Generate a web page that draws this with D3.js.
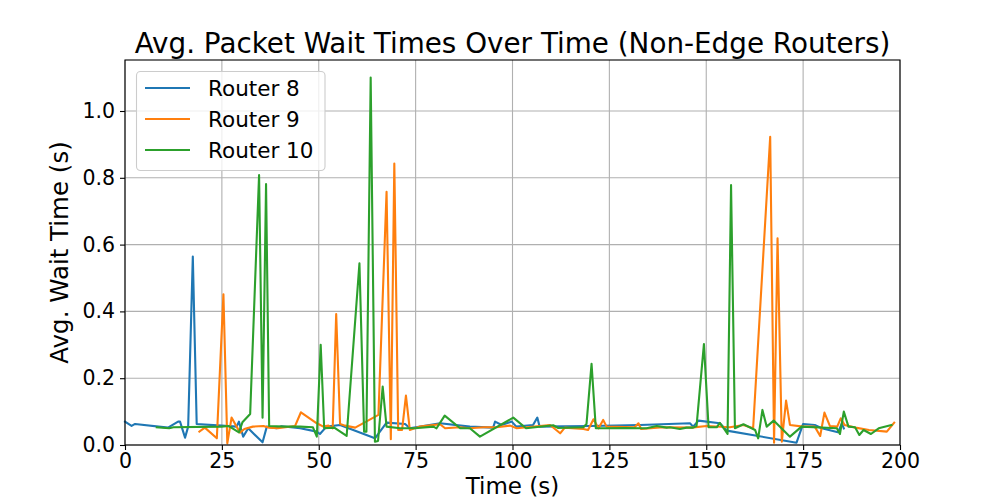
<!DOCTYPE html>
<html>
<head>
<meta charset="utf-8">
<script src="https://cdn.jsdelivr.net/npm/d3@7"></script>
<style>
  html, body { margin: 0; padding: 0; background: #fff; }
  svg { display: block; }
  text { font-family: "DejaVu Sans", sans-serif; fill: #000; }
</style>
</head>
<body>
<svg id="chart" width="1000" height="500"></svg>
<script>
const titleText = "Avg. Packet Wait Times Over Time (Non-Edge Routers)";
const xLabel = "Time (s)";
const yLabel = "Avg. Wait Time (s)";
const seriesNames = ["Router 8", "Router 9", "Router 10"];
const seriesColors = ["#1f77b4", "#ff7f0e", "#2ca02c"];
const xTicks = [0, 25, 50, 75, 100, 125, 150, 175, 200];
const yTicks = [0.0, 0.2, 0.4, 0.6, 0.8, 1.0];

const r8x = [0, 1.7, 2.6, 11.1, 13.7, 14.2, 15.5, 16.3, 17.5, 18.5, 24.9, 28.8, 29.4, 30.5, 31.8, 35.5, 36.6, 39.1, 40.4, 45.2, 49.5, 50.3, 52, 55.5, 64.5, 67.5, 72.3, 73.5, 81.3, 89, 95, 95.5, 97.2, 99.8, 101, 105.3, 106.4, 107, 120, 132.9, 145.8, 146.6, 148, 153.5, 155.3, 173.3, 175, 178, 179.8, 184, 185, 185.5];
const r8y = [0.07, 0.057, 0.063, 0.052, 0.07, 0.07, 0.022, 0.055, 0.564, 0.063, 0.058, 0.055, 0.07, 0.025, 0.05, 0.008, 0.055, 0.05, 0.056, 0.05, 0.04, 0.033, 0.055, 0.06, 0.02, 0.067, 0.063, 0.05, 0.065, 0.055, 0.052, 0.07, 0.06, 0.07, 0.055, 0.06, 0.082, 0.055, 0.057, 0.06, 0.065, 0.055, 0.073, 0.065, 0.043, 0.007, 0.063, 0.06, 0.05, 0.038, 0.065, 0.05];

const r9x = [19.2, 20.6, 23.7, 25.4, 26.4, 27.5, 28.8, 29.7, 30.8, 33, 35.7, 37.2, 39.4, 43.9, 45.4, 49.5, 51.2, 52.5, 53.6, 54.5, 55.5, 56.8, 59.4, 65.4, 67.5, 68.6, 69.5, 70.5, 71.5, 72.5, 73.5, 76, 81.3, 82.6, 86.5, 89, 92.5, 95.9, 99.4, 101.1, 103.7, 109.7, 112.3, 113.5, 118.3, 119.5, 120.9, 122.2, 123.4, 124.3, 131.5, 132.5, 133.2, 138.9, 146.2, 150.1, 156.1, 159.6, 162.1, 166.5, 167.5, 168.4, 169.5, 170.6, 171.6, 175, 178, 179.4, 180.5, 181.9, 183.8, 184.7, 185.7, 188.5, 192, 196.6, 198.5];
const r9y = [0.04, 0.052, 0.02, 0.451, 0.005, 0.082, 0.055, 0.037, 0.048, 0.055, 0.057, 0.052, 0.05, 0.057, 0.098, 0.065, 0.055, 0.058, 0.05, 0.392, 0.063, 0.058, 0.052, 0.09, 0.758, 0.017, 0.843, 0.045, 0.045, 0.148, 0.045, 0.055, 0.062, 0.05, 0.053, 0.05, 0.053, 0.053, 0.058, 0.05, 0.053, 0.06, 0.035, 0.052, 0.048, 0.045, 0.077, 0.05, 0.075, 0.055, 0.053, 0.065, 0.048, 0.053, 0.052, 0.057, 0.053, 0.06, 0.05, 0.923, 0.007, 0.619, 0.01, 0.133, 0.06, 0.055, 0.055, 0.027, 0.097, 0.057, 0.055, 0.08, 0.06, 0.052, 0.045, 0.04, 0.067];

const r10x = [8.2, 11.4, 12.5, 24.9, 26.7, 29.4, 30.3, 32.3, 34.6, 35.5, 36.4, 37.2, 41, 45.2, 48.5, 49.5, 50.5, 51.4, 54, 57.2, 60.5, 61.7, 62.3, 63.4, 64.5, 65.3, 66.5, 67.5, 71, 74.8, 79.6, 80.4, 82.5, 86.5, 89, 91.6, 100.2, 103.5, 110.5, 111.8, 118.3, 119.1, 120.4, 121.5, 123.4, 129.4, 132.9, 134.6, 137.2, 139.8, 140.6, 143.2, 144.9, 146.6, 147.5, 149.4, 150.6, 152.7, 153.5, 154.8, 155.5, 156.4, 157.4, 159.6, 162.6, 163.4, 164.5, 165.6, 167.4, 171.6, 174.6, 183.7, 184.5, 185.5, 186.7, 188.4, 189.5, 190.6, 192.5, 194.5, 197.8];
const r10y = [0.053, 0.05, 0.053, 0.055, 0.057, 0.038, 0.068, 0.093, 0.808, 0.082, 0.781, 0.057, 0.055, 0.055, 0.053, 0.025, 0.3, 0.05, 0.052, 0.027, 0.544, 0.04, 0.04, 1.1, 0.01, 0.012, 0.175, 0.055, 0.05, 0.05, 0.055, 0.05, 0.088, 0.05, 0.05, 0.025, 0.082, 0.05, 0.059, 0.051, 0.053, 0.063, 0.243, 0.05, 0.05, 0.051, 0.05, 0.05, 0.057, 0.052, 0.053, 0.048, 0.052, 0.052, 0.057, 0.302, 0.053, 0.053, 0.066, 0.045, 0.033, 0.778, 0.05, 0.062, 0.045, 0.02, 0.105, 0.055, 0.073, 0.025, 0.055, 0.05, 0.033, 0.1, 0.055, 0.053, 0.03, 0.045, 0.033, 0.05, 0.06];

const seriesX = [r8x, r9x, r10x];
const seriesY = [r8y, r9y, r10y];

const svg = d3.select("#chart");
const margin = {left: 125, right: 100, top: 60, bottom: 55};
const W = 1000, H = 500;
const x = d3.scaleLinear().domain([0, 200]).range([margin.left, W - margin.right]);
const y = d3.scaleLinear().domain([0, 1.1527]).range([H - margin.bottom, margin.top]);

// grid
const grid = svg.append("g");
grid.selectAll(".gx").data(xTicks).enter().append("line")
  .attr("x1", d => x(d)).attr("x2", d => x(d))
  .attr("y1", y.range()[0]).attr("y2", y.range()[1])
  .attr("stroke", "#b0b0b0").attr("stroke-width", 1.1);
grid.selectAll(".gy").data(yTicks).enter().append("line")
  .attr("x1", x.range()[0]).attr("x2", x.range()[1])
  .attr("y1", d => y(d)).attr("y2", d => y(d))
  .attr("stroke", "#b0b0b0").attr("stroke-width", 1.1);

// lines
const line = d3.line().x(d => x(d[0])).y(d => y(d[1]));
seriesNames.forEach((name, i) => {
  const pts = seriesX[i].map((v, j) => [v, seriesY[i][j]]);
  svg.append("path").datum(pts)
    .attr("d", line)
    .attr("fill", "none")
    .attr("stroke", seriesColors[i])
    .attr("stroke-width", 2.1)
    .attr("stroke-linejoin", "round")
    .attr("stroke-linecap", "square");
});

// frame
svg.append("rect")
  .attr("x", x.range()[0]).attr("y", y.range()[1])
  .attr("width", x.range()[1] - x.range()[0])
  .attr("height", y.range()[0] - y.range()[1])
  .attr("fill", "none").attr("stroke", "#000").attr("stroke-width", 1.1);

// axes
const xAxis = svg.append("g")
  .attr("transform", `translate(0,${y.range()[0]})`)
  .call(d3.axisBottom(x).tickValues(xTicks).tickFormat(d3.format("d")).tickSize(5).tickPadding(3.5));
const yAxis = svg.append("g")
  .attr("transform", `translate(${x.range()[0]},0)`)
  .call(d3.axisLeft(y).tickValues(yTicks).tickFormat(d3.format(".1f")).tickSize(5).tickPadding(5));
[xAxis, yAxis].forEach(a => {
  a.select(".domain").remove();
  a.selectAll(".tick line").attr("stroke", "#000").attr("stroke-width", 1.1);
  a.selectAll(".tick text").attr("font-family", "DejaVu Sans").attr("font-size", 20.5).attr("fill", "#000");
});

// title and labels
svg.append("text").attr("x", (x.range()[0] + x.range()[1]) / 2).attr("y", 53)
  .attr("text-anchor", "middle").attr("font-size", 27.8).text(titleText);
svg.append("text").attr("x", (x.range()[0] + x.range()[1]) / 2).attr("y", 494.3)
  .attr("text-anchor", "middle").attr("font-size", 23).text(xLabel);
svg.append("text")
  .attr("transform", `translate(68,${(y.range()[0] + y.range()[1]) / 2}) rotate(-90)`)
  .attr("text-anchor", "middle").attr("font-size", 24.5).text(yLabel);

// legend
const lg = svg.append("g");
lg.append("rect").attr("x", 136.5).attr("y", 71.5).attr("width", 188.5).attr("height", 99)
  .attr("rx", 4).attr("ry", 4)
  .attr("fill", "#fff").attr("fill-opacity", 0.8)
  .attr("stroke", "#cccccc").attr("stroke-width", 1.1);
seriesNames.forEach((name, i) => {
  const ly = 88 + i * 31;
  lg.append("line").attr("x1", 145).attr("x2", 190).attr("y1", ly).attr("y2", ly)
    .attr("stroke", seriesColors[i]).attr("stroke-width", 2.1);
  lg.append("text").attr("x", 208).attr("y", ly + 8).attr("font-size", 21.5).text(name);
});
</script>
</body>
</html>
